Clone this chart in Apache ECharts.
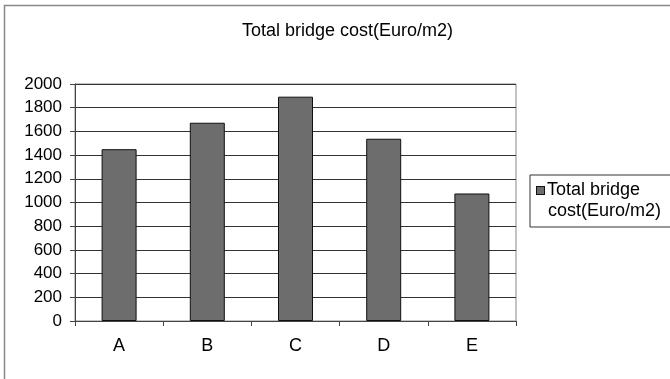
<!DOCTYPE html>
<html>
<head>
<meta charset="utf-8">
<style>
  html, body { margin: 0; padding: 0; background: #fff; }
  #chart { width: 670px; height: 379px; }
</style>
<script src="https://cdn.jsdelivr.net/npm/echarts@6/dist/echarts.min.js"></script>
</head>
<body>
<div id="chart"></div>
<script>
// Bridge alternatives and their total cost per square metre
const categories = ['A', 'B', 'C', 'D', 'E'];
const totalCost = [1450, 1673, 1893, 1538, 1076];
const seriesName = 'Total bridge cost(Euro/m2)';
const yTicks = { min: 0, max: 2000, interval: 200 };

const FONT = '"Liberation Sans", Arial, sans-serif';
const BAR_FILL = '#6d6d6d';
const BAR_EDGE = '#111';

const chart = echarts.init(document.getElementById('chart'), null, { renderer: 'canvas' });

chart.setOption({
  animation: false,
  backgroundColor: '#ffffff',
  textStyle: { fontFamily: FONT },
  title: {
    text: 'Total bridge cost(Euro/m2)',
    left: 237,
    top: 17,
    textStyle: { fontFamily: FONT, fontSize: 18, fontWeight: 'normal', color: '#000' }
  },
  legend: {
    data: [seriesName],
    left: 530,
    top: 175,
    orient: 'vertical',
    padding: [5, 30, 5, 1],
    borderColor: '#333',
    borderWidth: 1,
    icon: 'none',
    itemWidth: 1,
    itemHeight: 1,
    itemGap: 0,
    // legend swatch drawn inline so it sits on the first text line
    formatter: () => '{sq|}{gap|}Total bridge\n{ind|}cost(Euro/m2)',
    textStyle: {
      fontFamily: FONT,
      fontSize: 18,
      color: '#000',
      lineHeight: 21,
      rich: {
        sq: { width: 7, height: 7, backgroundColor: BAR_FILL, borderColor: BAR_EDGE, borderWidth: 1 },
        gap: { width: 3 },
        ind: { width: 11 }
      }
    }
  },
  grid: {
    left: 75,
    right: 154,
    top: 84,
    bottom: 58,
    show: true,
    borderColor: '#888',
    borderWidth: 1,
    containLabel: false
  },
  xAxis: {
    type: 'category',
    data: categories,
    boundaryGap: true,
    axisLine: { show: true, lineStyle: { color: '#444', width: 1 } },
    axisTick: { show: true, length: 5, inside: false, alignWithLabel: false, lineStyle: { color: '#444' } },
    axisLabel: { fontFamily: FONT, fontSize: 18, color: '#000', margin: 16 },
    splitLine: { show: false }
  },
  yAxis: {
    type: 'value',
    min: yTicks.min,
    max: yTicks.max,
    interval: yTicks.interval,
    axisLine: { show: true, lineStyle: { color: '#444', width: 1 } },
    axisTick: { show: true, length: 5, inside: false, lineStyle: { color: '#444' } },
    axisLabel: { fontFamily: FONT, fontSize: 17, color: '#000', margin: 13, formatter: v => String(v) },
    splitLine: { show: true, lineStyle: { color: '#333', width: 1 } }
  },
  graphic: [
    {
      type: 'rect',
      shape: { x: 4.5, y: 5.5, width: 700, height: 400 },
      style: { fill: 'none', stroke: '#888', lineWidth: 1.5 },
      silent: true,
      z: -1
    }
  ],
  series: [
    {
      name: seriesName,
      type: 'bar',
      data: totalCost,
      barWidth: 35,
      itemStyle: { color: BAR_FILL, borderColor: BAR_EDGE, borderWidth: 1 }
    }
  ]
});
</script>
</body>
</html>
